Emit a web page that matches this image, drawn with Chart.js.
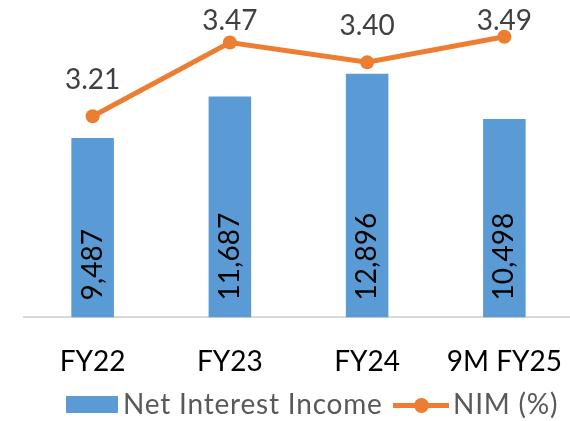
<!DOCTYPE html>
<html>
<head>
<meta charset="utf-8">
<script src="https://cdn.jsdelivr.net/npm/chart.js@4.4.0/dist/chart.umd.min.js"></script>
<style>
  html, body { margin: 0; padding: 0; background: #fff; overflow: hidden; }
  #wrap { position: relative; width: 570px; height: 421px; overflow: hidden; }
  canvas { position: absolute; left: 0; top: 0; }
  .lg { position: absolute; font-family: Lato, sans-serif; font-size: 28px; line-height: 28px; color: #595959; white-space: nowrap; letter-spacing: 0.8px; }
  .box { position: absolute; left: 66px; top: 396px; width: 52px; height: 17px; background: #5b9bd5; }
  .ln { position: absolute; left: 393px; top: 403px; width: 56px; height: 5px; background: #ed7d31; }
  .dot { position: absolute; left: 414px; top: 398px; width: 15px; height: 15px; border-radius: 50%; background: #ed7d31; }
</style>
</head>
<body>
<div id="wrap">
  <canvas id="chart" width="580" height="421"></canvas>
  <div class="box"></div>
  <div class="lg" style="left:123px; top:389px;">Net Interest Income</div>
  <div class="ln"></div>
  <div class="dot"></div>
  <div class="lg" style="left:453px; top:389px;">NIM (%)</div>
</div>
<script>
const categories = ['FY22', 'FY23', 'FY24', '9M FY25'];
const netInterestIncome = [9487, 11687, 12896, 10498];
const nimPercent = [3.21, 3.47, 3.40, 3.49];

const labelFont = '28px Lato, sans-serif';

// draws the value labels the way the source chart shows them
const valueLabels = {
    id: 'valueLabels',
    afterDatasetsDraw(chart) {
        const ctx = chart.ctx;
        ctx.save();
        ctx.font = labelFont;

        // bar values, rotated, sitting near the base of each bar
        ctx.fillStyle = '#000';
        chart.getDatasetMeta(0).data.forEach((bar, i) => {
            ctx.save();
            ctx.translate(bar.x, bar.base - 17);
            ctx.rotate(-Math.PI / 2);
            ctx.textAlign = 'left';
            ctx.textBaseline = 'middle';
            ctx.fillText(netInterestIncome[i].toLocaleString('en-US'), 0, 0);
            ctx.restore();
        });

        // NIM values above the points, kept inside the top edge
        ctx.fillStyle = '#404040';
        ctx.textAlign = 'center';
        ctx.textBaseline = 'alphabetic';
        chart.getDatasetMeta(1).data.forEach((pt, i) => {
            const y = Math.max(pt.y - 27, 30);
            ctx.fillText(nimPercent[i].toFixed(2), pt.x, y);
        });
        ctx.restore();
    }
};

new Chart(document.getElementById('chart'), {
    type: 'bar',
    data: {
        labels: categories,
        datasets: [{
            type: 'bar',
            label: 'Net Interest Income',
            data: netInterestIncome,
            backgroundColor: '#5b9bd5',
            yAxisID: 'y',
            categoryPercentage: 1,
            barPercentage: 0.31,
            order: 2
        }, {
            type: 'line',
            label: 'NIM (%)',
            data: nimPercent,
            borderColor: '#ed7d31',
            backgroundColor: '#ed7d31',
            borderWidth: 5,
            pointRadius: 7,
            pointBorderWidth: 0,
            pointBackgroundColor: '#ed7d31',
            tension: 0,
            yAxisID: 'y1',
            order: 1
        }]
    },
    options: {
        responsive: false,
        animation: false,
        layout: {
            padding: { top: 15, left: 24, right: 1, bottom: 14 }
        },
        plugins: {
            legend: { display: false },
            tooltip: { enabled: false }
        },
        scales: {
            x: {
                grid: { display: false, drawTicks: false },
                border: { display: true, color: '#d9d9d9', width: 2 },
                ticks: {
                    color: '#000',
                    padding: 28,
                    font: { family: 'Lato', size: 28 }
                },
                // let the last label hang over the edge instead of shrinking the plot
                afterFit(scale) {
                    scale.paddingLeft = 0;
                    scale.paddingRight = 0;
                }
            },
            y: {
                display: false,
                min: 0,
                max: 16000
            },
            y1: {
                display: false,
                min: 2.5,
                max: 3.567
            }
        }
    },
    plugins: [valueLabels]
});
</script>
</body>
</html>
